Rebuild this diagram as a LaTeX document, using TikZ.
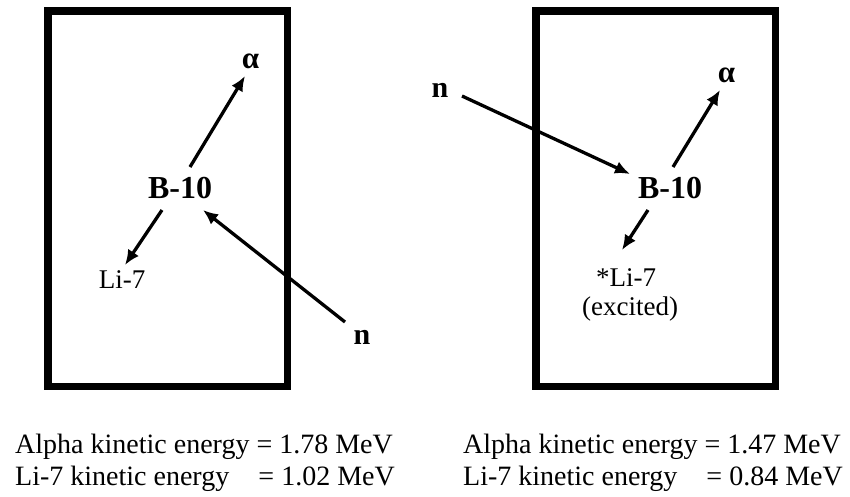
\documentclass[tikz,border=0pt]{standalone}
\usepackage{fontspec}
\setmainfont{Liberation Serif}
\usetikzlibrary{arrows.meta}
\begin{document}
\begin{tikzpicture}[x=1pt,y=-1pt,
  frame/.style={draw=black,line width=7.5pt},
  arr/.style={line width=3.3pt,-{Latex[length=15pt,width=13pt]}},
  nucl/.style={font=\fontsize{32}{36}\selectfont\bfseries,inner sep=0pt},
  part/.style={font=\fontsize{27}{30}\selectfont,inner sep=0pt},
  alph/.style={font=\fontsize{31}{34}\selectfont\bfseries,inner sep=0pt},
  neut/.style={font=\fontsize{30}{34}\selectfont\bfseries,inner sep=0pt},
  info/.style={font=\fontsize{28}{32}\selectfont,inner sep=0pt}]
\useasboundingbox (0,0) rectangle (850,496);
% boxes
\node[frame,minimum width=239.5pt,minimum height=375.5pt,inner sep=0pt] (boxL) at (167.5,198.5) {};
\node[frame,minimum width=239.5pt,minimum height=375.5pt,inner sep=0pt] (boxR) at (655.5,198.5) {};
% left reaction
\node[nucl] (bL) at (180,188) {B-10};
\node[alph] (aL) at (250.5,61) {α};
\node[part] (lL) at (122,280) {Li-7};
\node[neut] (nL) at (362,337) {n};
\coordinate (bLa) at (190,167); \coordinate (aLe) at (245,76);
\coordinate (bLl) at (162,210); \coordinate (lLe) at (125,265);
\coordinate (nLs) at (345,322); \coordinate (bLn) at (203,210);
\draw[arr] (bLa) -- (aLe);
\draw[arr] (bLl) -- (lLe);
\draw[arr] (nLs) -- (bLn);
% right reaction
\node[nucl] (bR) at (670,188) {B-10};
\node[alph] (aR) at (726.5,75) {α};
\node[neut] (nR) at (440,90) {n};
\node[part] (lR) at (626,278) {*Li-7};
\node[part] (eR) at (630,309) {(excited)};
\coordinate (bRa) at (673,167); \coordinate (aRe) at (720,90);
\coordinate (nRs) at (462,96); \coordinate (bRn) at (630,174);
\coordinate (bRl) at (648,210); \coordinate (lRe) at (622,250);
\draw[arr] (bRa) -- (aRe);
\draw[arr] (nRs) -- (bRn);
\draw[arr] (bRl) -- (lRe);
% energies
\node[info,anchor=base west] (t1) at (15,453) {Alpha kinetic energy = 1.78 MeV};
\node[info,anchor=base west] (t2) at (15,485) {Li-7 kinetic energy};
\node[info,anchor=base east] (t3) at (395,485) {= 1.02 MeV};
\node[info,anchor=base west] (t4) at (463,453) {Alpha kinetic energy = 1.47 MeV};
\node[info,anchor=base west] (t5) at (463,485) {Li-7 kinetic energy};
\node[info,anchor=base east] (t6) at (843,485) {= 0.84 MeV};
\end{tikzpicture}
\end{document}
